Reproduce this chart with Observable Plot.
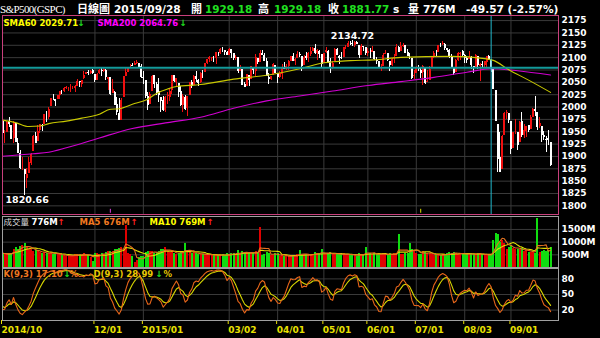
<!DOCTYPE html>
<html><head><meta charset="utf-8">
<script src="https://cdn.jsdelivr.net/npm/d3@7"></script>
<script src="https://cdn.jsdelivr.net/npm/@observablehq/plot@0.6"></script>
<style>
html,body{margin:0;padding:0;background:#000;}
#wrap{position:relative;width:600px;height:338px;background:#000;overflow:hidden;}
</style></head><body><div id="wrap"></div>
<script>
// ---------- data (S&P500 daily, 2014/10/01 .. 2015/09/28) ----------
const lastDate = "2015/09/28";
const tickIdx = [0, 42, 64, 103, 125, 146, 166, 188, 210, 231];
const tickLabels = ["2014/10", "12/01", "2015/01", "03/02", "04/01", "05/01", "06/01", "07/01", "08/03", "09/01"];
const priceTicks = [1800,1825,1850,1875,1900,1925,1950,1975,2000,2025,2050,2075,2100,2125,2150,2175];
const volTicks = [500, 1000, 1500];
const kdTicks = [20, 50, 80];

const O = [
// Oct
1971.44,1945.83,1948.12,1970.01,1962.36,1935.55,1967.68,1925.63,1905.65,1877.11,1874.18,1855.95,1864.91,1885.62,1909.38,1941.29,1931.02,1951.59,1962.97,1964.14,1983.29,1979.49,2001.20,
// Nov
2018.21,2015.81,2015.29,2023.33,2032.36,2032.01,2038.20,2037.75,2039.21,2039.74,2038.29,2041.48,2051.16,2045.87,2057.46,2065.07,2070.15,2067.36,2074.78,
// Dec
2065.78,2053.77,2067.45,2073.64,2072.78,2074.84,2056.55,2058.86,2027.92,2030.36,2005.03,1986.71,1973.77,2018.98,2061.04,2069.28,2081.48,2083.25,2084.30,2087.63,2088.49,2082.11,
// Jan
2058.90,2054.44,2022.15,2005.55,2030.61,2063.45,2046.13,2031.58,2018.40,2013.75,1992.25,2020.76,2020.19,2034.30,2062.98,2050.42,2047.86,2032.34,2002.45,2019.35,
// Feb
1996.67,2022.71,2048.86,2043.45,2062.28,2053.47,2049.38,2068.55,2069.98,2088.78,2096.47,2099.16,2099.25,2097.65,2109.83,2109.10,2115.30,2113.91,2110.88,
// Mar
2105.23,2115.76,2107.72,2098.54,2100.91,2072.25,2076.14,2044.69,2041.10,2064.56,2055.35,2080.59,2072.84,2098.69,2090.32,2107.99,2103.94,2093.10,2059.94,2055.78,2064.11,2084.05,
// Apr
2067.63,2060.03,2064.87,2080.79,2076.94,2081.29,2091.51,2102.03,2092.28,2097.82,2105.96,2102.58,2084.11,2102.82,2098.27,2107.21,2112.80,2119.29,2108.35,2112.49,2105.52,
// May
2087.38,2110.23,2112.63,2091.26,2079.96,2092.13,2115.56,2102.87,2099.62,2100.43,2122.07,2121.30,2129.45,2127.79,2125.55,2130.36,2125.34,2105.13,2122.27,2120.66,
// Jun
2108.64,2110.41,2110.64,2112.35,2095.09,2092.34,2079.07,2081.12,2106.24,2107.43,2091.34,2084.26,2097.40,2101.58,2121.06,2112.50,2123.16,2123.65,2109.96,2102.62,2098.63,2061.19,
// Jul
2067.00,2078.03,2073.95,2069.52,2077.66,2049.73,2052.74,2080.03,2099.72,2109.01,2110.55,2126.80,2126.85,2127.55,2118.21,2114.16,2102.24,2078.19,2070.75,2093.52,2106.78,2111.60,
// Aug
2104.49,2097.68,2095.27,2100.75,2082.61,2080.98,2102.66,2081.10,2086.19,2083.15,2089.70,2101.99,2095.69,2076.61,2034.08,1965.15,1898.08,1872.75,1942.77,1986.06,1986.73,
// Sep
1970.09,1916.52,1950.79,1947.76,1927.30,1971.45,1941.59,1951.45,1963.06,1955.10,1978.02,1995.33,1989.66,1960.84,1961.39,1943.24,1934.61,1935.93,1929.18
];
const H = [
1971.44,1952.32,1971.19,1977.84,1962.36,1970.36,1967.68,1936.98,1912.09,1898.71,1874.18,1876.01,1898.16,1905.03,1942.45,1949.31,1961.95,1965.27,1964.64,1985.05,1991.40,1999.40,2018.19,
2024.46,2015.98,2023.77,2031.61,2034.26,2038.70,2041.28,2040.33,2046.18,2042.22,2043.07,2056.08,2052.14,2053.84,2071.46,2070.17,2074.21,2073.29,2075.76,
2065.78,2068.77,2076.28,2077.34,2079.47,2075.78,2060.60,2058.86,2055.53,2032.25,2018.69,2016.89,2016.75,2061.23,2077.85,2078.76,2086.73,2087.56,2092.70,2093.55,2088.49,2085.58,
2072.36,2054.44,2030.25,2029.61,2064.08,2064.43,2049.30,2056.93,2018.40,2021.35,2020.46,2028.94,2038.29,2064.62,2062.98,2057.62,2047.86,2042.49,2024.64,2023.32,
2021.66,2050.30,2054.74,2063.55,2072.40,2056.16,2070.86,2073.48,2088.53,2097.03,2101.30,2100.23,2102.13,2110.61,2110.05,2117.94,2119.59,2113.91,2112.74,
2117.52,2115.76,2107.72,2104.25,2100.91,2083.49,2076.14,2050.08,2066.41,2064.56,2081.41,2080.59,2106.85,2098.69,2113.92,2114.86,2107.63,2097.43,2067.15,2062.83,2088.97,2084.05,
2067.63,2072.17,2086.99,2089.81,2086.69,2093.31,2102.61,2107.65,2098.62,2111.91,2111.30,2102.58,2103.94,2109.64,2109.98,2120.49,2120.92,2125.92,2116.04,2113.65,2105.52,
2108.41,2120.95,2115.24,2098.42,2092.90,2117.66,2117.69,2105.06,2110.19,2121.45,2123.89,2131.78,2133.02,2134.72,2131.79,2132.15,2125.34,2126.22,2122.27,2120.66,
2119.15,2117.59,2121.92,2112.89,2100.99,2093.01,2085.62,2108.50,2115.02,2107.43,2091.34,2097.40,2106.79,2126.65,2121.64,2129.87,2128.03,2125.10,2116.04,2108.92,2098.63,2074.28,
2082.78,2085.06,2078.61,2083.74,2077.66,2074.28,2081.31,2100.67,2111.98,2114.14,2124.42,2128.91,2132.82,2128.49,2118.51,2116.87,2106.01,2078.19,2095.60,2110.60,2110.48,2114.24,
2105.70,2102.51,2112.66,2103.32,2082.61,2105.35,2102.66,2089.06,2092.93,2092.45,2102.87,2103.47,2095.69,2076.61,2034.08,1965.15,1948.04,1943.09,1989.60,1993.48,1986.73,
1970.09,1948.91,1975.01,1947.76,1970.42,1988.63,1965.29,1961.05,1963.06,1983.19,1997.26,2020.86,1989.66,1979.64,1961.39,1949.52,1939.91,1952.89,1929.18
];
const L = [
1941.72,1926.03,1948.12,1958.43,1935.10,1925.25,1927.56,1906.05,1874.14,1871.79,1820.66,1835.02,1864.91,1882.30,1909.38,1926.83,1931.02,1946.27,1951.37,1964.14,1969.04,1974.75,2001.20,
2013.68,2001.01,2014.42,2015.86,2025.07,2030.17,2035.28,2031.95,2030.44,2035.20,2030.20,2041.48,2040.37,2040.49,2056.75,2065.07,2064.75,2066.62,2065.06,
2049.57,2053.77,2066.65,2062.34,2070.81,2054.27,2034.17,2024.26,2027.92,2002.33,1982.26,1972.56,1973.77,2018.98,2061.03,2069.28,2079.77,2081.86,2084.30,2085.75,2079.53,2057.94,
2046.04,2017.34,1992.44,2005.55,2030.61,2038.33,2022.58,2008.25,1988.44,1991.47,1988.12,2004.49,2012.04,2026.38,2050.54,2040.97,2019.91,2001.49,1989.18,1993.38,
1980.90,2022.71,2036.72,2043.45,2049.97,2041.88,2048.62,2057.99,2069.98,2086.70,2089.80,2092.15,2090.79,2085.44,2103.00,2105.87,2109.89,2103.76,2103.75,
2104.50,2098.26,2094.49,2095.22,2067.27,2072.21,2044.16,2039.69,2041.10,2041.17,2055.35,2065.08,2061.23,2085.56,2090.32,2104.42,2091.50,2061.05,2045.50,2052.96,2064.11,2067.04,
2048.38,2057.32,2056.52,2076.10,2073.30,2074.29,2091.51,2092.33,2083.24,2097.82,2100.02,2072.37,2084.11,2094.38,2091.05,2103.19,2112.80,2107.04,2094.89,2097.41,2077.59,
2087.38,2108.29,2088.46,2067.93,2074.99,2092.13,2104.58,2085.57,2096.04,2100.43,2116.81,2120.01,2124.50,2122.59,2120.14,2126.06,2099.18,2105.13,2112.86,2104.89,
2102.54,2099.14,2109.61,2093.23,2085.67,2079.11,2072.14,2081.12,2106.24,2091.33,2072.49,2082.10,2088.86,2101.58,2109.45,2112.50,2119.89,2108.58,2101.78,2095.38,2056.64,2056.32,
2067.00,2071.02,2058.40,2044.02,2044.66,2049.73,2052.74,2080.03,2098.18,2102.49,2110.55,2119.88,2123.66,2115.40,2110.00,2098.63,2077.09,2063.52,2069.09,2091.52,2094.08,2102.07,
2087.31,2088.60,2095.27,2075.53,2067.91,2080.98,2076.49,2052.09,2078.26,2080.61,2079.30,2094.14,2069.09,2035.73,1970.89,1867.01,1867.08,1872.75,1942.77,1975.19,1965.98,
1903.07,1916.52,1944.72,1911.21,1927.30,1937.88,1937.19,1939.19,1948.27,1954.30,1977.93,1980.69,1953.45,1955.80,1929.22,1932.57,1908.92,1921.50,1879.21
];
const C = [
1946.16,1946.17,1967.90,1964.82,1935.10,1968.89,1928.21,1906.13,1874.74,1877.70,1862.49,1862.76,1886.76,1904.01,1941.28,1927.11,1950.82,1964.58,1961.63,1985.05,1982.30,1994.65,2018.05,
2017.81,2012.10,2023.57,2031.21,2031.92,2038.26,2039.68,2038.25,2039.33,2039.82,2041.32,2051.80,2048.72,2052.75,2063.50,2069.41,2067.03,2072.83,2067.56,
2053.44,2066.55,2074.33,2071.92,2075.37,2060.31,2059.82,2026.14,2035.33,2002.33,1989.63,1972.74,2012.89,2061.23,2070.65,2078.54,2082.17,2081.88,2088.77,2090.57,2080.35,2058.90,
2058.20,2020.58,2002.61,2025.90,2062.14,2044.81,2028.26,2023.03,2011.27,1992.67,2019.42,2022.55,2032.12,2063.15,2051.82,2057.09,2029.55,2002.16,2021.25,1994.99,
2020.85,2050.03,2041.51,2062.52,2055.47,2046.74,2068.59,2068.53,2088.48,2096.99,2100.34,2099.68,2097.45,2110.30,2109.66,2115.48,2113.86,2110.74,2104.50,
2117.39,2107.78,2098.53,2101.04,2071.26,2079.43,2044.16,2040.24,2065.95,2053.40,2081.19,2074.28,2099.50,2089.27,2108.10,2104.42,2091.50,2061.05,2056.15,2061.02,2086.24,2067.89,
2059.69,2066.96,2080.62,2076.33,2081.90,2091.18,2102.06,2092.43,2095.84,2106.63,2104.99,2081.18,2100.40,2097.29,2107.96,2112.93,2117.69,2108.92,2114.76,2106.85,2085.51,
2108.29,2114.49,2089.46,2080.15,2088.00,2116.10,2105.33,2099.12,2098.48,2121.10,2122.73,2129.20,2127.83,2125.85,2130.82,2126.06,2104.20,2123.48,2120.79,2107.39,
2111.73,2109.60,2114.07,2095.84,2092.83,2079.28,2080.15,2105.20,2108.86,2094.11,2084.43,2096.29,2100.44,2121.24,2109.99,2122.85,2124.20,2108.58,2102.31,2101.49,2057.64,2063.11,
2077.42,2076.78,2068.76,2081.34,2046.68,2051.31,2076.62,2099.60,2108.95,2107.40,2124.29,2126.64,2128.28,2119.21,2114.15,2102.15,2079.65,2067.64,2093.25,2108.57,2108.63,2103.84,
2098.04,2093.32,2099.84,2083.56,2077.57,2104.18,2084.07,2086.05,2083.39,2091.54,2102.44,2096.92,2079.61,2035.73,1970.89,1893.21,1867.61,1940.51,1987.66,1988.87,1972.18,
1913.85,1948.86,1951.13,1921.22,1969.41,1942.04,1952.29,1961.05,1953.03,1978.09,1995.31,1990.20,1958.03,1966.97,1942.74,1938.76,1932.24,1931.34,1881.77
];
// volume (M)
const V = [
560,540,520,530,570,720,780,700,820,860,930,800,700,720,650,680,620,600,560,580,540,570,600,
520,540,530,500,480,470,450,460,470,480,500,530,510,490,560,480,470,380,250,
560,540,520,540,500,600,650,620,640,700,720,760,780,700,1650,560,520,450,200,260,380,430,
450,600,650,620,620,560,580,640,700,720,780,620,600,620,560,520,560,640,620,930,
600,620,560,580,560,500,520,530,520,480,500,480,470,520,470,480,500,480,560,
520,540,560,520,680,500,640,600,560,600,560,540,620,560,1580,480,520,600,560,460,460,560,
560,420,480,440,460,440,420,460,480,520,680,460,500,500,480,500,520,580,560,560,690,
520,500,560,580,540,520,500,540,520,540,500,480,520,500,480,420,560,500,480,800,
520,540,520,540,520,500,520,560,520,480,540,520,540,560,1310,500,520,560,540,950,690,640,
560,500,520,640,600,560,540,520,460,480,500,480,500,520,540,600,560,580,560,520,560,540,
520,500,540,560,520,520,560,540,520,480,480,460,520,1050,1350,1300,980,1080,940,700,780,
880,760,720,700,720,740,640,680,600,600,620,570,1920,600,640,660,640,664,776
];
// high / low of the 8 sessions before 2014/10/01 (for the KD window)
const preH = [2019.26, 2009.08, 1995.41, 1999.79, 1997.32, 1986.37, 1978.63, 1985.17];
const preL = [2006.59, 1991.01, 1982.77, 1978.63, 1965.99, 1966.22, 1964.04, 1968.96];
const kdSeed = [28, 30];
const kdLast = [17.10, 28.99];
// moving averages (session index -> value)
const sma60Idx = [0,6,12,17,21,29,36,44,49,53,59,66,70,75,79,90,105,120,135,146,158,169,181,204,220,223,230,239,249];
const sma60Val = [1973.5,1968.5,1960.5,1961.5,1966.5,1971.5,1977.5,1985.5,1995.5,1996.5,2005.5,2016,2027.5,2036.5,2041.5,2045.5,2056.5,2064.5,2077.5,2089.5,2094,2095.5,2100.5,2102.5,2097.5,2094.5,2075.5,2054.5,2029.71];
const sma200Idx = [0,14,21,29,44,59,75,90,105,120,135,150,166,181,196,211,222,234,249];
const sma200Val = [1900.5,1905.5,1908.5,1917.5,1937.5,1956.5,1968.5,1979.5,1997.5,2012.5,2022.5,2032.5,2043.5,2051.5,2060,2070.5,2077.5,2073.5,2064.76];
const crossIdx = 222;           // cross-hair session
const eventMarks = [{i: 49, c: "#e040e0"}, {i: 190, c: "#e0e000"}];

// ---------- derived ----------
const N = C.length, last = N - 1;
const rows = d3.range(N).map(i => ({i, o: O[i], h: H[i], l: L[i], c: C[i], v: V[i], up: C[i] > O[i]}));
const allH = preH.concat(H), allL = preL.concat(L);
let kk = kdSeed[0], dd = kdSeed[1];
const kd = [];
for (let i = 0; i < N; i++) {
  const j = i + preH.length;
  const hh = d3.max(allH.slice(j - 8, j + 1)), ll = d3.min(allL.slice(j - 8, j + 1));
  const rsv = hh === ll ? 50 : (C[i] - ll) / (hh - ll) * 100;
  kk = 2 / 3 * kk + rsv / 3; dd = 2 / 3 * dd + kk / 3;
  kd.push({i, k: kk, d: dd});
}
const sma60 = sma60Idx.map((i, j) => ({i, v: sma60Val[j]}));
const sma200 = sma200Idx.map((i, j) => ({i, v: sma200Val[j]}));
const ma5 = d3.mean(V.slice(-5)), ma10 = d3.mean(V.slice(-10));

// ---------- style ----------
const GRID = "#3a3a3a", UP = "#f01010", DOWN = "#ffffff", VUP = "#e00000", VDN = "#10dd10";
const YEL = "#ffff00", MAG = "#ff00ff", ORG = "#f07820", GRN = "#20e020", RED = "#ff2020";
const FONT = "'DejaVu Sans', sans-serif", CJK = "'Noto Sans CJK TC', sans-serif";
const STY = {background: "transparent", color: "#fff", fontFamily: FONT, fontSize: "9px", fontWeight: "bold", overflow: "visible"};
const common = {width: 600, marginLeft: 2, marginRight: 42, x: {domain: [0, 252.6], axis: null}, color: {type: "identity"}, style: STY};
const wrap = document.getElementById("wrap");
function place(el, top) { el.style.position = "absolute"; el.style.left = "0px"; el.style.top = top + "px"; wrap.appendChild(el); }
function lab(t, x, color, opts = {}) {
  return Plot.text([t], {frameAnchor: "top-left", text: d => d, dx: x - 2, dy: 6, textAnchor: "start", lineAnchor: "middle",
    fill: color, fontSize: 8.5, fontWeight: "bold", fontFamily: FONT, ...opts});
}
const plain = d => String(d);

// ---------- main price panel ----------
const hiI = d3.maxIndex(H), loI = d3.minIndex(L);
const main = Plot.plot({
  ...common, height: 215, marginTop: 15, marginBottom: 1,
  y: {domain: [1782.5, 2185.3], axis: null},
  marks: [
    Plot.gridY(priceTicks, {stroke: GRID, strokeOpacity: 1}),
    Plot.gridX(tickIdx, {stroke: GRID, strokeOpacity: 1}),
    Plot.ruleX(eventMarks, {x: "i", y1: 1785, y2: 1793, stroke: "c", strokeWidth: 1}),
    Plot.ruleX(rows, {x: "i", y1: "l", y2: "h", stroke: d => d.up ? UP : DOWN, strokeWidth: 1, shapeRendering: "crispEdges"}),
    Plot.ruleX(rows, {x: "i", y1: "o", y2: "c", stroke: d => d.up ? UP : DOWN, strokeWidth: 2, shapeRendering: "crispEdges"}),
    Plot.line(sma200, {x: "i", y: "v", stroke: "#d000d0", strokeWidth: 1.1, curve: "monotone-x"}),
    Plot.line(sma60, {x: "i", y: "v", stroke: "#c8c800", strokeWidth: 1.1, curve: "monotone-x"}),
    Plot.ruleY([C[crossIdx]], {stroke: "#139a9a", strokeWidth: 2}),
    Plot.ruleX([crossIdx], {stroke: "#20b8cc", strokeWidth: 1}),
    Plot.text([{i: hiI, v: H[hiI]}], {x: "i", y: "v", text: d => d.v.toFixed(2), lineAnchor: "bottom", dy: -1, fill: "#fff", fontSize: 9.5, fontWeight: "bold"}),
    Plot.text([{i: loI, v: L[loI]}], {x: "i", y: "v", text: d => d.v.toFixed(2), lineAnchor: "top", textAnchor: "start", dx: -19, dy: 1, fill: "#fff", fontSize: 9.5, fontWeight: "bold"}),
    lab(`SMA60 ${sma60Val[sma60Val.length - 1].toFixed(2)}`, 3, YEL, {dy: 8}),
    lab(sma60Val.at(-1) < sma60Val.at(-2) ? "↓" : "↑", 77, GRN, {dy: 8}),
    lab(`SMA200 ${sma200Val[sma200Val.length - 1].toFixed(2)}`, 97, MAG, {dy: 8}),
    lab(sma200Val.at(-1) < sma200Val.at(-2) ? "↓" : "↑", 179, GRN, {dy: 8}),
    Plot.axisY(priceTicks, {anchor: "right", tickSize: 0, tickPadding: 3, label: null, tickFormat: plain, fill: "#fff", fontSize: 9, fontWeight: "bold"}),
    Plot.frame({stroke: "#c8407c", shapeRendering: "crispEdges"})
  ]
});
place(main, 0);

// ---------- volume panel ----------
const vol = Plot.plot({
  ...common, height: 53, marginTop: 1, marginBottom: 1,
  y: {domain: [0, 2010], axis: null},
  marks: [
    Plot.gridY(volTicks, {stroke: GRID, strokeOpacity: 1}),
    Plot.gridX(tickIdx, {stroke: GRID, strokeOpacity: 1}),
    Plot.ruleX(rows, {x: "i", y1: 0, y2: "v", stroke: d => d.up ? VUP : VDN, strokeWidth: 2, shapeRendering: "crispEdges"}),
    Plot.lineY(rows, Plot.windowY({k: 10, anchor: "end", reduce: "mean"}, {x: "i", y: "v", stroke: "#e0e000", strokeWidth: 1.1})),
    Plot.lineY(rows, Plot.windowY({k: 5, anchor: "end", reduce: "mean"}, {x: "i", y: "v", stroke: "#e07020", strokeWidth: 1.1})),
    lab("成交量", 3, "#d8d8d8", {fontFamily: CJK, fontWeight: "normal", fontSize: 8.5}),
    lab(`${V[last]}M`, 31, "#fff"),
    lab(V[last] >= V[last - 1] ? "↑" : "↓", 57, RED),
    lab(`MA5 ${Math.round(ma5)}M`, 79, ORG),
    lab("↑", 130, RED),
    lab(`MA10 ${Math.round(ma10)}M`, 149, YEL),
    lab("↑", 206, RED),
    Plot.axisY(volTicks, {anchor: "right", tickSize: 0, tickPadding: 3, label: null, tickFormat: d => d + "M", fill: "#fff", fontSize: 9, fontWeight: "bold"}),
    Plot.frame({stroke: "#a0a0a0", shapeRendering: "crispEdges"})
  ]
});
place(vol, 215);

// ---------- KD panel + x axis ----------
const kdp = Plot.plot({
  ...common, height: 71, marginTop: 1, marginBottom: 18,
  y: {domain: [0, 100], axis: null},
  marks: [
    Plot.gridY(kdTicks, {stroke: GRID, strokeOpacity: 1}),
    Plot.gridX(tickIdx, {stroke: GRID, strokeOpacity: 1}),
    Plot.line(kd, {x: "i", y: "d", stroke: "#d8d800", strokeWidth: 1.1}),
    Plot.line(kd, {x: "i", y: "k", stroke: "#e8661a", strokeWidth: 1.1}),
    lab(`K(9,3) ${kdLast[0].toFixed(2)}`, 3, ORG),
    lab("↓", 63, GRN),
    lab("%", 69, ORG),
    lab(`D(9,3) ${kdLast[1].toFixed(2)}`, 93, "#e8c800"),
    lab("↓", 155, GRN),
    lab("%", 163, "#e8c800"),
    Plot.axisY(kdTicks, {anchor: "right", tickSize: 0, tickPadding: 3, label: null, tickFormat: plain, fill: "#fff", fontSize: 9, fontWeight: "bold"}),
    Plot.axisX(tickIdx, {anchor: "bottom", tickSize: 4, tickPadding: 2, label: null, textAnchor: "start", dx: -1,
      tickFormat: d => tickLabels[tickIdx.indexOf(d)], stroke: "#e8e000", fill: "#e8e000", fontSize: 9, fontWeight: "bold"}),
    Plot.frame({stroke: "#a0a0a0", shapeRendering: "crispEdges"})
  ]
});
place(kdp, 267);

// ---------- header ----------
const chg = C[last] - C[last - 1], pct = chg / C[last - 1] * 100;
const head = [
  {x: 0, t: "S&P500(GSPC)", f: "#fff", font: "'Liberation Serif', serif", w: "normal", s: 11, ls: -0.6},
  {x: 77, t: "日線圖", f: "#fff", font: CJK, w: "bold", s: 11},
  {x: 114, t: lastDate, f: "#fff", font: FONT, w: "bold", s: 10.6},
  {x: 191, t: "開", f: "#fff", font: CJK, w: "bold", s: 11},
  {x: 205, t: O[last].toFixed(2), f: GRN, font: FONT, w: "bold", s: 10.4},
  {x: 258, t: "高", f: "#fff", font: CJK, w: "bold", s: 11},
  {x: 274, t: H[last].toFixed(2), f: GRN, font: FONT, w: "bold", s: 10.4},
  {x: 328, t: "收", f: "#fff", font: CJK, w: "bold", s: 11},
  {x: 342, t: C[last].toFixed(2), f: GRN, font: FONT, w: "bold", s: 10.4},
  {x: 393, t: "s", f: "#fff", font: FONT, w: "bold", s: 10.6},
  {x: 408, t: "量", f: "#fff", font: CJK, w: "bold", s: 11},
  {x: 423, t: `${V[last]}M`, f: "#fff", font: FONT, w: "bold", s: 10.6},
  {x: 466, t: `${chg.toFixed(2)} (${pct.toFixed(2)}%)`, f: "#fff", font: FONT, w: "bold", s: 10.6}
];
const hs = d3.create("svg").attr("width", 600).attr("height", 15);
hs.selectAll("text").data(head).join("text")
  .attr("x", d => d.x).attr("y", 12.5).attr("fill", d => d.f)
  .attr("font-family", d => d.font).attr("font-weight", d => d.w).attr("font-size", d => d.s)
  .attr("letter-spacing", d => d.ls || 0).text(d => d.t);
place(hs.node(), 0);
</script>
</body></html>
